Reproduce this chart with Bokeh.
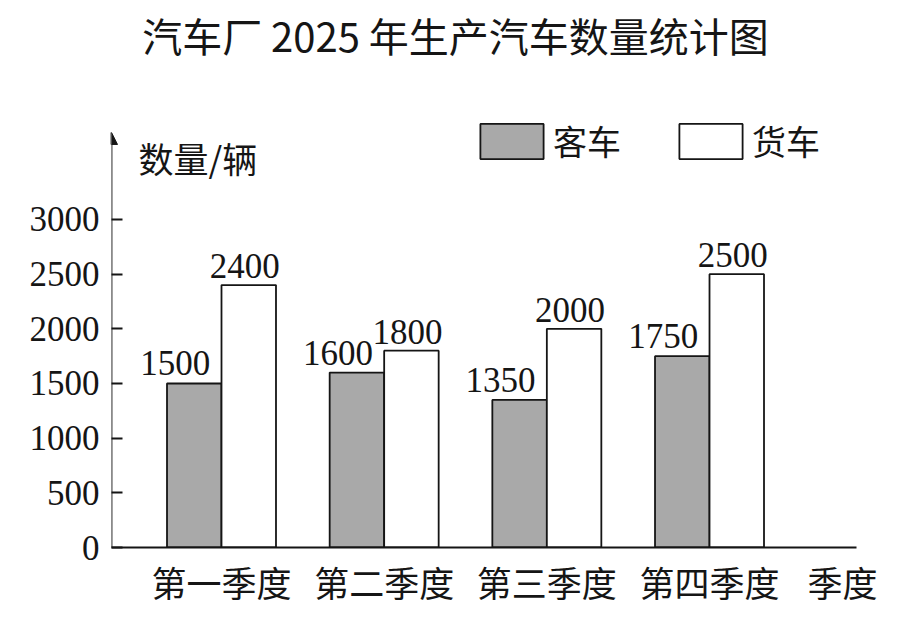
from bokeh.plotting import figure
from bokeh.models import (ColumnDataSource, FixedTicker, Range1d, Label, Arrow,
                          NormalHead, Legend, LegendItem)
from bokeh.transform import dodge
from bokeh.core.properties import value
from bokeh.embed import file_html
from bokeh.resources import INLINE

# ---- data ----
title_text = "汽车厂 2025 年生产汽车数量统计图"
quarters = ["第一季度", "第二季度", "第三季度", "第四季度"]
x_axis_label = "季度"
y_axis_label = "数量/辆"
series_names = ["客车", "货车"]
passenger = [1500, 1600, 1350, 1750]
truck = [2400, 1800, 2000, 2500]
y_ticks = [0, 500, 1000, 1500, 2000, 2500, 3000]

CJK = "Noto Sans CJK SC"
SERIF = "Liberation Serif"
INK = "#151515"

pos = list(range(1, len(quarters) + 1))
src = ColumnDataSource(dict(
    x=pos, passenger=passenger, truck=truck,
    p_lab=[str(v) for v in passenger], t_lab=[str(v) for v in truck]))

BW = 0.335
X0, X1 = 0.3238, 4.9036
Y1 = 5003
p = figure(width=905, height=611, output_backend="svg", toolbar_location=None,
           x_range=Range1d(X0, X1), y_range=Range1d(0, Y1),
           min_border_left=111, min_border_right=49, min_border_top=0,
           min_border_bottom=64)
p.outline_line_color = None
p.grid.visible = False
p.background_fill_color = "white"
p.border_fill_color = "white"

r1 = p.vbar(x=dodge("x", -BW / 2, range=p.x_range), top="passenger", width=BW,
            source=src, fill_color="#a9a9a9", line_color=INK, line_width=1.8)
r2 = p.vbar(x=dodge("x", BW / 2, range=p.x_range), top="truck", width=BW,
            source=src, fill_color="white", line_color=INK, line_width=1.8)

p.text(x=dodge("x", -BW / 2, range=p.x_range), y="passenger", text="p_lab",
       source=src, text_align="center", text_baseline="bottom",
       x_offset=-19, y_offset=-8, text_font=value(SERIF),
       text_font_size="35px", text_color=INK)
p.text(x=dodge("x", BW / 2, range=p.x_range), y="truck", text="t_lab",
       source=src, text_align="center", text_baseline="bottom",
       x_offset=-4, y_offset=-7, text_font=value(SERIF),
       text_font_size="35px", text_color=INK)

# x axis
xa = p.xaxis[0]
unit_pos = 4.8175
xa.ticker = FixedTicker(ticks=pos + [unit_pos])
overrides = {k: v for k, v in zip(pos, quarters)}
overrides[unit_pos] = x_axis_label
xa.major_label_overrides = overrides
xa.axis_line_width = 2
xa.axis_line_color = INK
xa.major_tick_line_color = None
xa.minor_tick_line_color = None
xa.major_label_standoff = 2
xa.major_label_text_font = CJK
xa.major_label_text_font_size = "35px"
xa.major_label_text_color = INK

# y axis
ya = p.yaxis[0]
ya.ticker = FixedTicker(ticks=y_ticks)
ya.axis_line_color = None
ya.major_tick_in = 11
ya.major_tick_out = 0
ya.major_tick_line_width = 1.8
ya.major_tick_line_color = INK
ya.minor_tick_line_color = None
ya.major_label_standoff = 12
ya.major_label_text_font = SERIF
ya.major_label_text_font_size = "35px"
ya.major_label_text_color = INK

# y axis line with arrow
p.add_layout(Arrow(end=NormalHead(size=12, fill_color=INK, line_color=INK),
                   x_start=X0, y_start=0, x_end=X0, y_end=3796,
                   line_width=1.8, line_color=INK))

p.add_layout(Label(x=0.4898, y=3567, text=y_axis_label, text_align="left",
                   text_baseline="middle", text_font=CJK,
                   text_font_size="35px", text_color=INK))

p.add_layout(Label(x=2.4385, y=4692, text=title_text, text_align="center",
                   text_baseline="middle", text_font=CJK,
                   text_font_size="40px", text_color=INK))

legend = Legend(items=[LegendItem(label=series_names[0], renderers=[r1]),
                       LegendItem(label=series_names[1], renderers=[r2])],
                orientation="horizontal", location=(361, 382),
                glyph_width=79, glyph_height=44, label_standoff=2, spacing=50,
                padding=0, margin=0, border_line_color=None,
                background_fill_alpha=0, label_text_font=CJK,
                label_text_font_size="34px", label_text_color=INK)
p.add_layout(legend)

open("out.html", "w").write(file_html(p, INLINE))
